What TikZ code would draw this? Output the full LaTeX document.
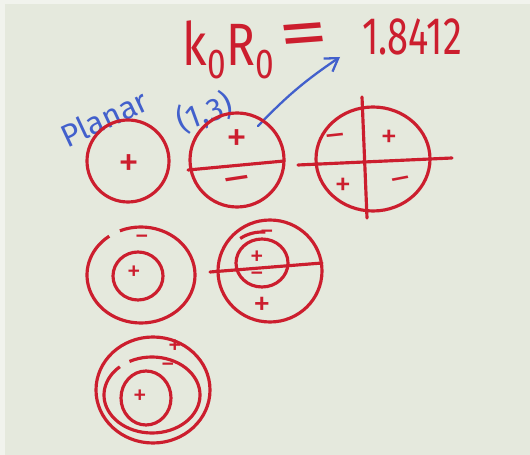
\documentclass[tikz,border=0pt]{standalone}
\usepackage{fontspec}
\setmainfont{Fira Sans}
\usetikzlibrary{arrows.meta}

\definecolor{inkred}{RGB}{204,30,46}
\definecolor{inkblue}{RGB}{66,96,204}
\definecolor{board}{RGB}{229,233,221}
\definecolor{boardedge}{RGB}{241,243,237}

\begin{document}
\begin{tikzpicture}[
  x=0.02cm, y=-0.02cm,
  ring/.style={draw=inkred, line width=1.8pt},
  cut/.style={draw=inkred, line width=1.8pt, line cap=round},
  sign/.style={text=inkred, inner sep=0pt, font=\fontsize{24}{24}\selectfont},
  smallsign/.style={text=inkred, inner sep=0pt, font=\fontsize{16}{16}\selectfont},
  note/.style={text=inkblue, inner sep=0pt}
]
% board
\fill[board] (0,0) rectangle (530,455);
\fill[boardedge] (0,0) rectangle (530,4);
\fill[boardedge] (0,0) rectangle (5,455);
\useasboundingbox (0,0) rectangle (530,455);

% equation
\node[text=inkred, inner sep=0pt, font=\fontsize{34}{34}\selectfont, xscale=0.8] (kr) at (229,50) {k\textsubscript{0}R\textsubscript{0}};
\node[text=inkred, inner sep=0pt, font=\fontsize{40}{40}\selectfont, xscale=1.4, rotate=6] (eqsign) at (305,40) {=};
\node[text=inkred, inner sep=0pt, font=\fontsize{30}{30}\selectfont, xscale=0.72] (val) at (412,37) {1.8412};

% labels
\node[note, font=\fontsize{18}{18}\selectfont, rotate=25] (planar) at (104,118) {Planar};
\node[note, font=\fontsize{18}{18}\selectfont, rotate=20] (mode) at (205,113) {(1,3)};
\coordinate (tail) at (258,126);
\coordinate (tip) at (340,57);
\draw[inkblue, line width=1.3pt, line cap=round, -{Straight Barb[length=7pt,width=9pt]}] (tail) to[bend left=6] (tip);

% row 1
\coordinate (c1) at (128,161);
\draw[ring] (c1) ellipse [x radius=41, y radius=41];
\node[sign] (s1) at (129,166) {+};

\coordinate (c2) at (237,160);
\draw[ring] (c2) ellipse [x radius=47, y radius=47];
\coordinate (l2a) at (188,170);
\coordinate (l2b) at (284,161);
\draw[cut] (l2a) -- (l2b);
\node[sign] (s2a) at (237,141) {+};
\node[sign, xscale=1.4, rotate=12] (s2b) at (239,185) {−};

\coordinate (c3) at (373,159);
\draw[ring] (c3) ellipse [x radius=57, y radius=52];
\coordinate (v3a) at (362,97);
\coordinate (v3b) at (367,218);
\coordinate (h3a) at (298,165);
\coordinate (h3b) at (452,158);
\draw[cut] (v3a) -- (v3b);
\draw[cut] (h3a) -- (h3b);
\node[sign, font=\fontsize{19}{19}\selectfont, xscale=1.3, rotate=8] (s3a) at (336,140) {−};
\node[sign, font=\fontsize{19}{19}\selectfont] (s3b) at (389,139) {+};
\node[sign, font=\fontsize{19}{19}\selectfont] (s3c) at (343,187) {+};
\node[sign, font=\fontsize{19}{19}\selectfont, xscale=1.3, rotate=14] (s3d) at (402,183) {−};

% row 2
\coordinate (c4) at (141,275);
\draw[ring] (c4) ++(-113:54 and 48) arc[start angle=-113, end angle=234, x radius=54, y radius=48];
\draw[ring] (138,276) ellipse [x radius=25, y radius=24];
\node[smallsign] (s4a) at (142,240) {−};
\node[smallsign] (s4b) at (134,273) {+};

\coordinate (c5) at (270,271);
\draw[ring] (c5) ellipse [x radius=52, y radius=51];
\draw[ring] (262,263) ellipse [x radius=26, y radius=24];
\draw[ring] (262,268) ++(-125:38 and 36) arc[start angle=-125, end angle=-85, x radius=38, y radius=36];
\coordinate (l5a) at (210,272);
\coordinate (l5b) at (322,263);
\draw[cut] (l5a) -- (l5b);
\node[smallsign] (s5a) at (267,235) {−};
\node[smallsign] (s5b) at (257,258) {+};
\node[smallsign] (s5c) at (257,277) {−};
\node[sign, font=\fontsize{20}{20}\selectfont] (s5d) at (262,306) {+};

% row 3
\coordinate (c6) at (153,390);
\draw[ring] (c6) ellipse [x radius=57, y radius=53];
\draw[ring] (152,395) ++(-118:48 and 38) arc[start angle=-118, end angle=228, x radius=48, y radius=38];
\draw[ring] (146,398) ellipse [x radius=25, y radius=27];
\node[smallsign] (s6a) at (175,347) {+};
\node[smallsign] (s6b) at (168,368) {−};
\node[smallsign] (s6c) at (140,397) {+};
\end{tikzpicture}
\end{document}
